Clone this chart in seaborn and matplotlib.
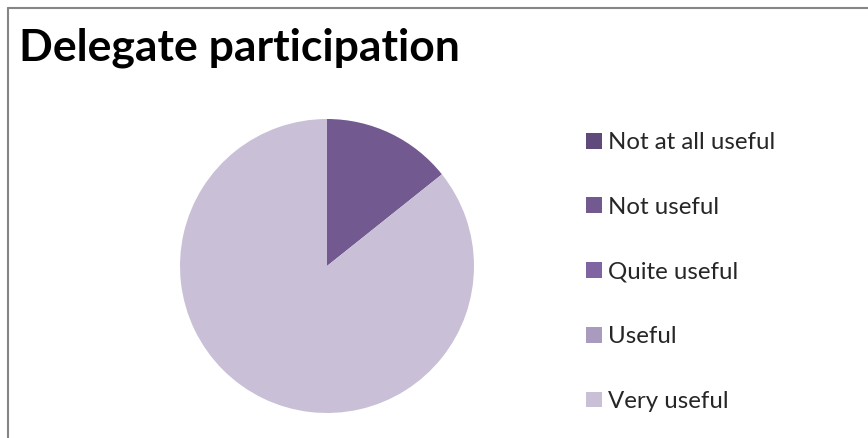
import matplotlib
matplotlib.use("Agg")
import matplotlib.pyplot as plt
from matplotlib.lines import Line2D
from matplotlib.patches import Patch
import seaborn as sns

labels = ['Not at all useful', 'Not useful', 'Quite useful', 'Useful', 'Very useful']
counts = [0, 1, 0, 0, 6]
hex_colors = ['#604a7b', '#725990', '#8064a2', '#a99bbd', '#c9c0d7']

sns.set_style("white")
plt.rcParams['font.family'] = ['Lato', 'DejaVu Sans']
palette = sns.color_palette(hex_colors)

W, H = 868, 438
fig = plt.figure(figsize=(W / 100, H / 100), dpi=100)

# pie area
cx, cy, r = 327, 266, 147
ax = fig.add_axes([(cx - r) / W, (H - cy - r) / H, 2 * r / W, 2 * r / H])
wedges, _ = ax.pie(counts, colors=palette, startangle=90, counterclock=False,
                   radius=1, wedgeprops={"linewidth": 0})
ax.set_xlim(-1, 1)
ax.set_ylim(-1, 1)
ax.set_aspect('equal')
ax.axis('off')

# title
fig.text(19 / W, 1 - 61 / H, 'Delegate participation', fontsize=32,
         fontweight='bold', ha='left', va='baseline', color='black')

# legend
handles = [Patch(facecolor=c, edgecolor='none') for c in palette]
fig.legend(handles, labels, loc='center left',
           bbox_to_anchor=(586 / W, 1 - 272 / H), frameon=False,
           fontsize=17.3, handlelength=0.67, handleheight=0.64,
           handletextpad=0.25, labelspacing=1.82,
           borderpad=0, borderaxespad=0)

# chart frame (only top and left edges visible)
fig.add_artist(Line2D([8 / W, 8 / W], [0, 1 - 7.5 / H], transform=fig.transFigure,
                      color='#868686', lw=1.5))
fig.add_artist(Line2D([8 / W, 1], [1 - 7.5 / H, 1 - 7.5 / H], transform=fig.transFigure,
                      color='#868686', lw=1.5))

fig.savefig('out.png', dpi=100, facecolor='white')
